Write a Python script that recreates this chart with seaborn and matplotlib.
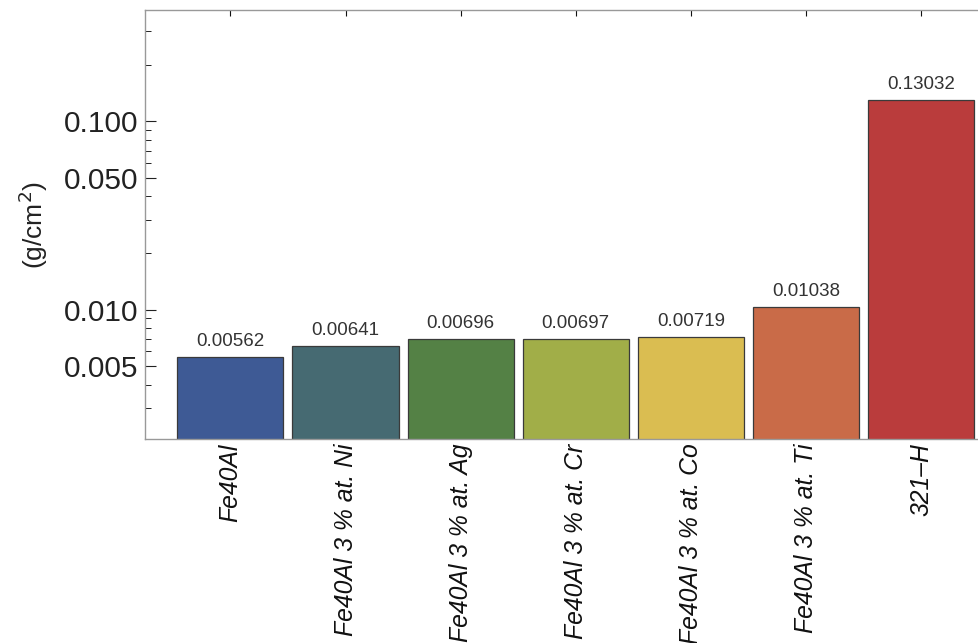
import matplotlib
matplotlib.use("Agg")
import matplotlib.pyplot as plt
import seaborn as sns
import pandas as pd
from matplotlib.ticker import LogLocator, FixedLocator, FixedFormatter, NullFormatter

categories = ["Fe40Al", "Fe40Al 3 % at. Ni", "Fe40Al 3 % at. Ag", "Fe40Al 3 % at. Cr",
              "Fe40Al 3 % at. Co", "Fe40Al 3 % at. Ti", "321–H"]
values = [0.00562, 0.00641, 0.00696, 0.00697, 0.00719, 0.01038, 0.13032]
value_labels = ["0.00562", "0.00641", "0.00696", "0.00697", "0.00719", "0.01038", "0.13032"]
colors = ["#3E5A95", "#466A72", "#548145", "#A1AE48", "#DABD51", "#C96B48", "#BA3C3C"]
ytick_values = [0.005, 0.010, 0.050, 0.100]
ytick_labels = ["0.005", "0.010", "0.050", "0.100"]
ylabel = "(g/cm$^2$)"

sns.set_style("white")
plt.rcParams["font.family"] = ["Liberation Sans", "DejaVu Sans"]

df = pd.DataFrame({"cat": categories, "val": values})

fig = plt.figure(figsize=(9.79, 6.43), dpi=100)
ax = fig.add_axes([145 / 979, 1 - 439.3 / 643, 1 - 145 / 979 + 0.002, (439.3 - 10) / 643])

sns.barplot(data=df, x="cat", y="val", hue="cat", palette=colors, legend=False,
            width=0.922, edgecolor="#3a3a3a", linewidth=0.9, saturation=1, ax=ax)
ax.set_yscale("log")
ax.set_ylim(0.00205, 0.39)
ax.set_xlim(-0.742, 6.52)

for i, c in enumerate(ax.containers):
    ax.bar_label(c, labels=[value_labels[i]], padding=5, fontsize=13.5, color="#333333")

ax.yaxis.set_major_locator(FixedLocator(ytick_values))
ax.yaxis.set_major_formatter(FixedFormatter(ytick_labels))
ax.yaxis.set_minor_locator(LogLocator(base=10, subs=range(1, 10)))
ax.yaxis.set_minor_formatter(NullFormatter())
ax.tick_params(axis="y", which="major", direction="in", length=8, width=0.8,
               labelsize=21.5, colors="#222222", left=True, pad=5)
ax.tick_params(axis="y", which="minor", direction="in", length=4, width=0.7, left=True,
               colors="#222222")
ax.tick_params(axis="x", which="major", direction="in", length=4, width=0.8,
               bottom=True, top=True, labelsize=17.8, colors="#111111", pad=3)

ax.set_xticks(range(len(categories)))
ax.set_xticklabels(categories, rotation=90, style="italic", ha="center", va="top")
ax.set_xlabel("")
ax.set_ylabel(ylabel, fontsize=19, color="#222222", labelpad=10)

for side in ["left", "top", "bottom"]:
    ax.spines[side].set_visible(True)
    ax.spines[side].set_color("#999999")
    ax.spines[side].set_linewidth(1.0)
ax.spines["right"].set_visible(False)

fig.savefig("out.png", dpi=100)
